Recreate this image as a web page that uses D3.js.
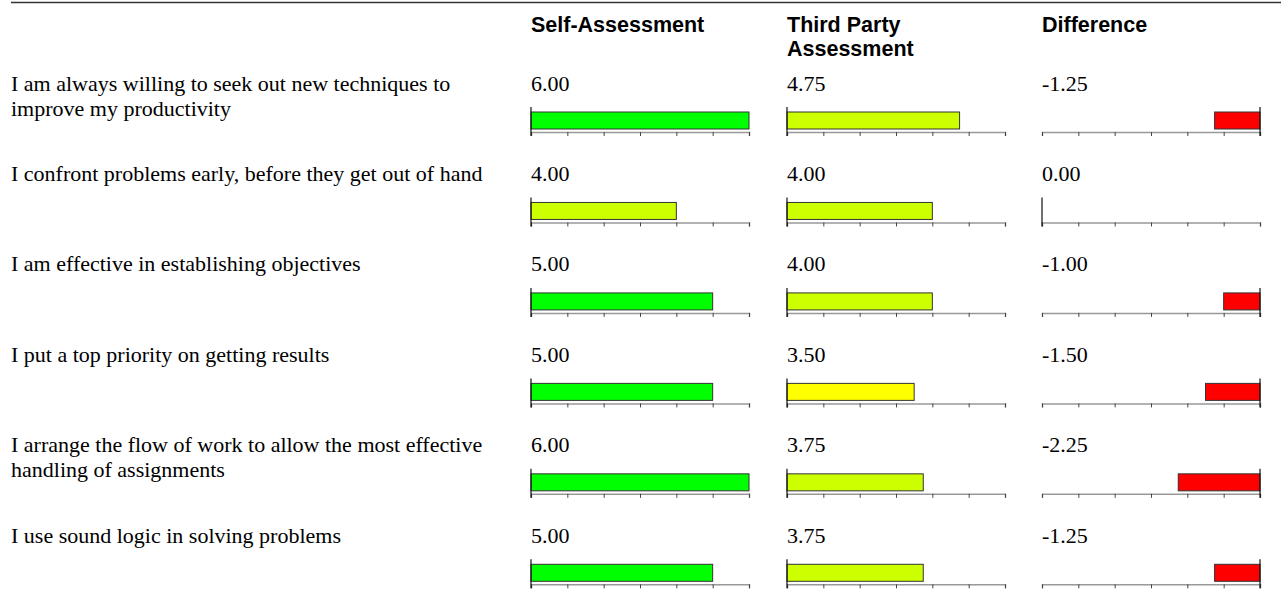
<!DOCTYPE html>
<html>
<head>
<meta charset="utf-8">
<script src="https://cdn.jsdelivr.net/npm/d3@7"></script>
<style>
  html, body { margin: 0; padding: 0; background: #fff; }
  svg { display: block; }
</style>
</head>
<body>
<svg id="chart" width="1281" height="589"></svg>
<script>
// ---- data ----
const statements = [
  ["I am always willing to seek out new techniques to", "improve my productivity"],
  ["I confront problems early, before they get out of hand"],
  ["I am effective in establishing objectives"],
  ["I put a top priority on getting results"],
  ["I arrange the flow of work to allow the most effective", "handling of assignments"],
  ["I use sound logic in solving problems"]
];
const selfScores = [6.00, 4.00, 5.00, 5.00, 6.00, 5.00];
const thirdPartyScores = [4.75, 4.00, 4.00, 3.50, 3.75, 3.75];
const differences = [-1.25, 0.00, -1.00, -1.50, -2.25, -1.25];
const columnHeaders = [["Self-Assessment"], ["Third Party", "Assessment"], ["Difference"]];
const scoreTicks = [0, 1, 2, 3, 4, 5, 6];
const diffTicks = [-6, -5, -4, -3, -2, -1, 0];

// ---- layout ----
const svg = d3.select("#chart");
const colX = [531, 787, 1042];
const axisW = 218;
const rowY = d3.scaleLinear().domain([0, 1]).range([111.5, 111.5 + 90.46]);
const barH = 18;
const textGap = 21;
const serif = "Liberation Serif, Times New Roman, serif";
const sans = "Liberation Sans, Arial, sans-serif";

const scoreColor = d3.scaleThreshold().domain([3.75, 5]).range(["#ffff00", "#ccff00", "#00ff00"]);

// top rule
svg.append("line").attr("x1", 11).attr("x2", 1281).attr("y1", 2.5).attr("y2", 2.5)
  .attr("stroke", "#333").attr("stroke-width", 1.5);

// headers
columnHeaders.forEach((lines, c) => {
  const t = svg.append("text").attr("x", colX[c]).attr("y", 32)
    .attr("font-family", sans).attr("font-weight", "bold")
    .attr("font-size", 21.5).attr("fill", "#000");
  lines.forEach((l, k) => t.append("tspan").attr("x", colX[c]).attr("dy", k === 0 ? 0 : 24).text(l));
});

const fmt = v => d3.format(".2f")(v).replace("\u2212", "-");

function drawPanel(g, value, x0, isDiff, color) {
  const neg = isDiff && value < 0;
  const domain = neg ? [-6, 0] : [0, 6];
  const x = d3.scaleLinear().domain(domain).range([x0, x0 + axisW]);
  const ticks = neg ? diffTicks : scoreTicks;
  const axisY = barH + 2.5;
  // axis
  const ax = g.append("g").attr("transform", `translate(0,${axisY})`)
    .call(d3.axisBottom(x).tickValues(ticks).tickSize(4).tickSizeOuter(4).tickFormat(""));
  ax.select(".domain").attr("stroke", "#999").attr("stroke-width", 1.5);
  ax.selectAll(".tick line").attr("stroke", "#444").attr("stroke-width", 1);
  // bar
  if (value !== 0) {
    const a = x(Math.min(0, value)), b = x(Math.max(0, value));
    g.append("rect").attr("x", a).attr("y", 0.5).attr("width", b - a).attr("height", barH - 1)
      .attr("fill", color).attr("stroke", "#333").attr("stroke-width", 1);
  }
  // zero line
  g.append("line").attr("x1", x(0)).attr("x2", x(0)).attr("y1", -4.5).attr("y2", axisY + 4)
    .attr("stroke", "#111").attr("stroke-width", 1.2);
}

statements.forEach((lines, i) => {
  const y = rowY(i);
  const ty = y - textGap;
  const t = svg.append("text").attr("x", 11).attr("y", ty)
    .attr("font-family", serif).attr("font-size", 22).attr("fill", "#000");
  lines.forEach((l, k) => t.append("tspan").attr("x", 11).attr("dy", k === 0 ? 0 : 25).text(l));

  const vals = [selfScores[i], thirdPartyScores[i], differences[i]];
  vals.forEach((v, c) => {
    svg.append("text").attr("x", colX[c]).attr("y", ty)
      .attr("font-family", serif).attr("font-size", 22).attr("fill", "#000")
      .text(fmt(v));
    const g = svg.append("g").attr("transform", `translate(0,${y})`);
    drawPanel(g, v, colX[c], c === 2, c === 2 ? "#ff0000" : scoreColor(v));
  });
});
</script>
</body>
</html>
